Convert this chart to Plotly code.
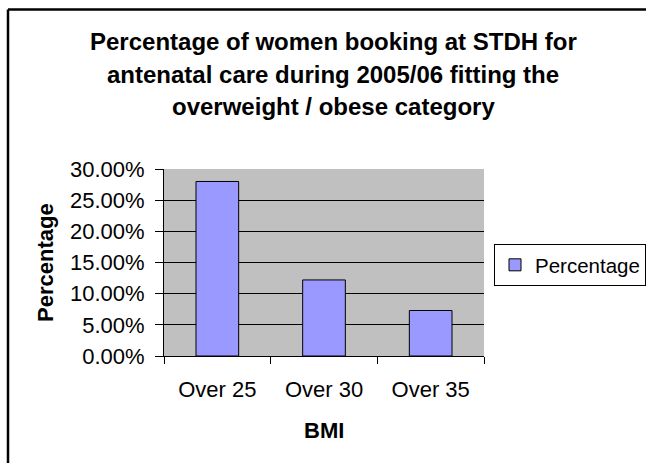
import plotly.graph_objects as go

categories = ["Over 25", "Over 30", "Over 35"]
percentages = [0.28, 0.122, 0.073]
series_name = "Percentage"
title_lines = [
    "Percentage of women booking at STDH for",
    "antenatal care during 2005/06 fitting the",
    "overweight / obese category",
]
y_ticks = [0, 0.05, 0.10, 0.15, 0.20, 0.25, 0.30]

FONT = "Liberation Sans, Arial, sans-serif"

W, H = 646, 463
L, R, T, B = 164, 162, 169, 107
pw, ph = W - L - R, H - T - B


def px_x(x):
    return (x - L) / pw


def px_y(y):
    return (H - B - y) / ph


fig = go.Figure()
fig.add_trace(go.Bar(
    x=categories, y=percentages, name=series_name,
    marker=dict(color="#9999FF", line=dict(color="black", width=1)),
    showlegend=True,
))

annotations = []
for line, yc in zip(title_lines, [41, 74, 106]):
    annotations.append(dict(
        text=f"<b>{line}</b>", x=px_x(333), y=px_y(yc), xref="paper", yref="paper",
        xanchor="center", yanchor="middle", showarrow=False,
        font=dict(family=FONT, size=24, color="black"),
    ))
annotations.append(dict(
    text="<b>Percentage</b>", x=px_x(45), y=px_y(263), xref="paper", yref="paper",
    xanchor="center", yanchor="middle", showarrow=False, textangle=-90,
    font=dict(family=FONT, size=22, color="black"),
))
annotations.append(dict(
    text="<b>BMI</b>", x=px_x(324), y=px_y(430), xref="paper", yref="paper",
    xanchor="center", yanchor="middle", showarrow=False,
    font=dict(family=FONT, size=22, color="black"),
))

border = dict(color="black", width=2.5)
shapes = [
    dict(type="line", xref="paper", yref="paper",
         x0=px_x(8), y0=px_y(9.5), x1=px_x(660), y1=px_y(9.5), line=border),
    dict(type="line", xref="paper", yref="paper",
         x0=px_x(8), y0=px_y(9.5), x1=px_x(8), y1=px_y(480), line=border),
]

fig.update_layout(
    width=W, height=H,
    margin=dict(l=L, r=R, t=T, b=B, pad=0, autoexpand=False),
    paper_bgcolor="white",
    plot_bgcolor="#C0C0C0",
    font=dict(family=FONT, size=21, color="black"),
    bargap=0.6,
    annotations=annotations,
    shapes=shapes,
    legend=dict(
        x=px_x(494), y=px_y(244), xanchor="left", yanchor="top",
        bordercolor="black", borderwidth=1, bgcolor="white",
        font=dict(family=FONT, size=20.5, color="black"),
        itemwidth=30,
    ),
    xaxis=dict(
        type="category", showline=True, linecolor="black", linewidth=1,
        ticks="outside", ticklen=7, tickcolor="black", tickson="boundaries",
        ticklabelstandoff=14, showgrid=False,
        tickfont=dict(family=FONT, size=22, color="black"),
    ),
    yaxis=dict(
        range=[0, 0.30], tickvals=y_ticks, tickformat=".2%",
        showline=True, linecolor="black", linewidth=1,
        ticks="outside", ticklen=8, tickcolor="black", ticklabelstandoff=6,
        showgrid=True, gridcolor="black", gridwidth=1, zeroline=False,
        tickfont=dict(family=FONT, size=22, color="black"),
    ),
)

fig.write_html(
    "out.html",
    config={"displayModeBar": False},
    post_script="document.body.style.margin='0';document.body.style.overflow='hidden';",
)
